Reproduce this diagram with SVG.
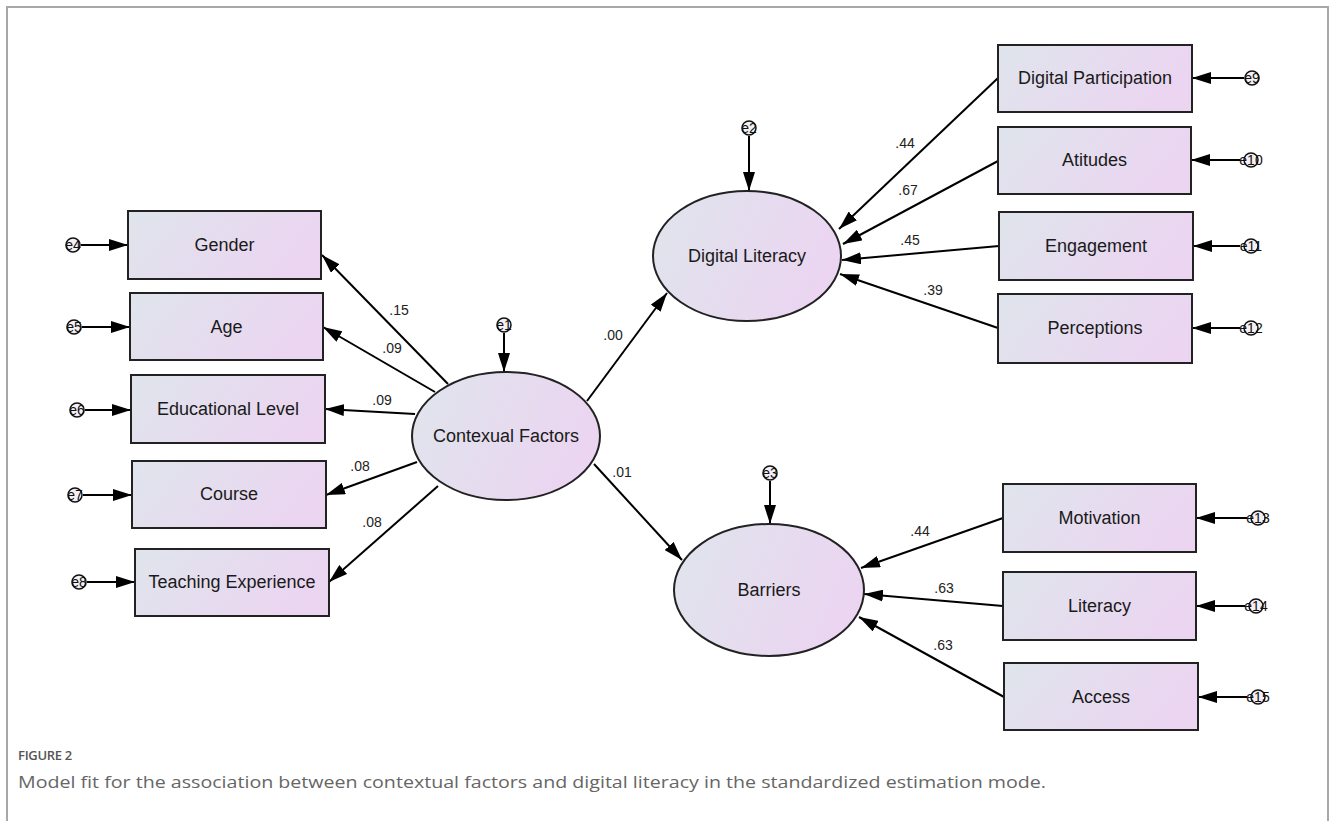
<svg xmlns="http://www.w3.org/2000/svg" width="1330" height="821" viewBox="0 0 1330 821">
<defs>
<linearGradient id="g" x1="0" y1="0" x2="1" y2="0.3">
<stop offset="0" stop-color="#dfe5ec"/>
<stop offset="1" stop-color="#ebd5f1"/>
</linearGradient>
<marker id="ah" markerUnits="userSpaceOnUse" markerWidth="20" markerHeight="12" refX="19" refY="6" orient="auto">
<path d="M0,0 L19,6 L0,12 z" fill="#000"/>
</marker>
<style>
.box{fill:url(#g);stroke:#222;stroke-width:2}
.lbl{font-family:"Liberation Sans",Arial,sans-serif;font-size:18px;fill:#1a1a1a;text-anchor:middle;dominant-baseline:central}
.num{font-family:"Liberation Sans",Arial,sans-serif;font-size:14px;fill:#222;text-anchor:middle}
.err{fill:#f4f0f6;stroke:#111;stroke-width:1.5}
.et{font-family:"Liberation Sans",Arial,sans-serif;font-size:14px;fill:#111;text-anchor:middle;dominant-baseline:central}
.c{stroke:#000;stroke-width:2;fill:none;marker-end:url(#ah)}
</style>
</defs>
<rect x="0" y="0" width="1330" height="821" fill="#fff"/>
<rect x="7" y="7" width="1321" height="830" fill="none" stroke="#a8a8a8" stroke-width="2"/>

<g id="connectors">
<line class="c" x1="81" y1="245" x2="128" y2="245"/>
<line class="c" x1="82" y1="327" x2="130" y2="327"/>
<line class="c" x1="85" y1="410" x2="131" y2="410"/>
<line class="c" x1="83" y1="495" x2="132" y2="495"/>
<line class="c" x1="87" y1="582" x2="135" y2="582"/>
<line class="c" x1="1244" y1="78" x2="1192" y2="78"/>
<line class="c" x1="1240" y1="160" x2="1191" y2="160"/>
<line class="c" x1="1240" y1="246" x2="1193" y2="246"/>
<line class="c" x1="1240" y1="328" x2="1192" y2="328"/>
<line class="c" x1="1247" y1="518" x2="1196" y2="518"/>
<line class="c" x1="1245" y1="606" x2="1196" y2="606"/>
<line class="c" x1="1247" y1="697" x2="1198" y2="697"/>
<line class="c" x1="504" y1="333" x2="504" y2="372"/>
<line class="c" x1="749" y1="136" x2="749" y2="191"/>
<line class="c" x1="770" y1="481" x2="770" y2="524"/>
<line class="c" x1="448" y1="384" x2="322" y2="255"/>
<line class="c" x1="435" y1="392" x2="323" y2="327"/>
<line class="c" x1="415" y1="414" x2="325" y2="409"/>
<line class="c" x1="417" y1="462" x2="326" y2="495"/>
<line class="c" x1="438" y1="486" x2="329" y2="582"/>
<line class="c" x1="587" y1="401" x2="667" y2="293"/>
<line class="c" x1="594" y1="464" x2="682" y2="560"/>
<line class="c" x1="998" y1="78" x2="839" y2="229"/>
<line class="c" x1="998" y1="161" x2="843" y2="244"/>
<line class="c" x1="999" y1="246" x2="842" y2="260"/>
<line class="c" x1="998" y1="328" x2="840" y2="274"/>
<line class="c" x1="1003" y1="518" x2="861" y2="568"/>
<line class="c" x1="1003" y1="606" x2="864" y2="594"/>
<line class="c" x1="1004" y1="697" x2="859" y2="617"/>
<text class="num" x="399" y="315">.15</text>
<text class="num" x="392" y="353">.09</text>
<text class="num" x="382" y="405">.09</text>
<text class="num" x="360" y="471">.08</text>
<text class="num" x="372" y="527">.08</text>
<text class="num" x="613" y="340">.00</text>
<text class="num" x="622" y="477">.01</text>
<text class="num" x="905" y="148">.44</text>
<text class="num" x="908" y="195">.67</text>
<text class="num" x="910" y="245">.45</text>
<text class="num" x="933" y="295">.39</text>
<text class="num" x="920" y="536">.44</text>
<text class="num" x="944" y="593">.63</text>
<text class="num" x="943" y="650">.63</text>
</g>

<g id="e1"><circle class="err" cx="504" cy="325" r="7"/><text class="et" x="504" y="325">e1</text></g>
<g id="e2"><circle class="err" cx="749" cy="128" r="7"/><text class="et" x="749" y="128">e2</text></g>
<g id="e3"><circle class="err" cx="770" cy="473" r="7"/><text class="et" x="770" y="473">e3</text></g>
<g id="e4"><circle class="err" cx="73" cy="245" r="7"/><text class="et" x="73" y="245">e4</text></g>
<g id="e5"><circle class="err" cx="74" cy="327" r="7"/><text class="et" x="74" y="327">e5</text></g>
<g id="e6"><circle class="err" cx="77" cy="410" r="7"/><text class="et" x="77" y="410">e6</text></g>
<g id="e7"><circle class="err" cx="75" cy="495" r="7"/><text class="et" x="75" y="495">e7</text></g>
<g id="e8"><circle class="err" cx="79" cy="582" r="7"/><text class="et" x="79" y="582">e8</text></g>
<g id="e9"><circle class="err" cx="1252" cy="78" r="7"/><text class="et" x="1252" y="78">e9</text></g>
<g id="e10"><circle class="err" cx="1251" cy="160" r="7"/><text class="et" x="1251" y="160">e10</text></g>
<g id="e11"><circle class="err" cx="1251" cy="246" r="7"/><text class="et" x="1251" y="246">e11</text></g>
<g id="e12"><circle class="err" cx="1251" cy="328" r="7"/><text class="et" x="1251" y="328">e12</text></g>
<g id="e13"><circle class="err" cx="1258" cy="518" r="7"/><text class="et" x="1258" y="518">e13</text></g>
<g id="e14"><circle class="err" cx="1256" cy="606" r="7"/><text class="et" x="1256" y="606">e14</text></g>
<g id="e15"><circle class="err" cx="1258" cy="697" r="7"/><text class="et" x="1258" y="697">e15</text></g>

<g id="gender"><rect class="box" x="128" y="211" width="193" height="68"/><text class="lbl" x="224.5" y="245">Gender</text></g>
<g id="age"><rect class="box" x="130" y="293" width="193" height="67"/><text class="lbl" x="226.5" y="327">Age</text></g>
<g id="edu"><rect class="box" x="131" y="375" width="194" height="68"/><text class="lbl" x="228" y="409">Educational Level</text></g>
<g id="course"><rect class="box" x="132" y="461" width="194" height="67"/><text class="lbl" x="229" y="494">Course</text></g>
<g id="teaching"><rect class="box" x="135" y="549" width="194" height="67"/><text class="lbl" x="232" y="582">Teaching Experience</text></g>

<g id="contextual"><ellipse class="box" cx="506" cy="436" rx="94" ry="64"/><text class="lbl" x="506" y="436">Contexual Factors</text></g>
<g id="digital-literacy"><ellipse class="box" cx="747" cy="256" rx="94" ry="65"/><text class="lbl" x="747" y="256">Digital Literacy</text></g>
<g id="barriers"><ellipse class="box" cx="769" cy="590" rx="95" ry="66"/><text class="lbl" x="769" y="590">Barriers</text></g>

<g id="participation"><rect class="box" x="998" y="45" width="194" height="67"/><text class="lbl" x="1095" y="78">Digital Participation</text></g>
<g id="atitudes"><rect class="box" x="998" y="127" width="193" height="67"/><text class="lbl" x="1094.5" y="160">Atitudes</text></g>
<g id="engagement"><rect class="box" x="999" y="212" width="194" height="68"/><text class="lbl" x="1096" y="246">Engagement</text></g>
<g id="perceptions"><rect class="box" x="998" y="294" width="194" height="69"/><text class="lbl" x="1095" y="328">Perceptions</text></g>
<g id="motivation"><rect class="box" x="1003" y="484" width="193" height="68"/><text class="lbl" x="1099.5" y="518">Motivation</text></g>
<g id="literacy"><rect class="box" x="1003" y="572" width="193" height="68"/><text class="lbl" x="1099.5" y="606">Literacy</text></g>
<g id="access"><rect class="box" x="1004" y="663" width="194" height="67"/><text class="lbl" x="1101" y="697">Access</text></g>

<text x="18" y="760" font-family="'Open Sans','Noto Sans',sans-serif" font-size="13" font-weight="600" fill="#555" letter-spacing="-0.3">FIGURE 2</text>
<text x="18" y="788" font-family="'Open Sans','Noto Sans',sans-serif" font-size="17" fill="#666" textLength="1028" lengthAdjust="spacingAndGlyphs">Model fit for the association between contextual factors and digital literacy in the standardized estimation mode.</text>
</svg>
